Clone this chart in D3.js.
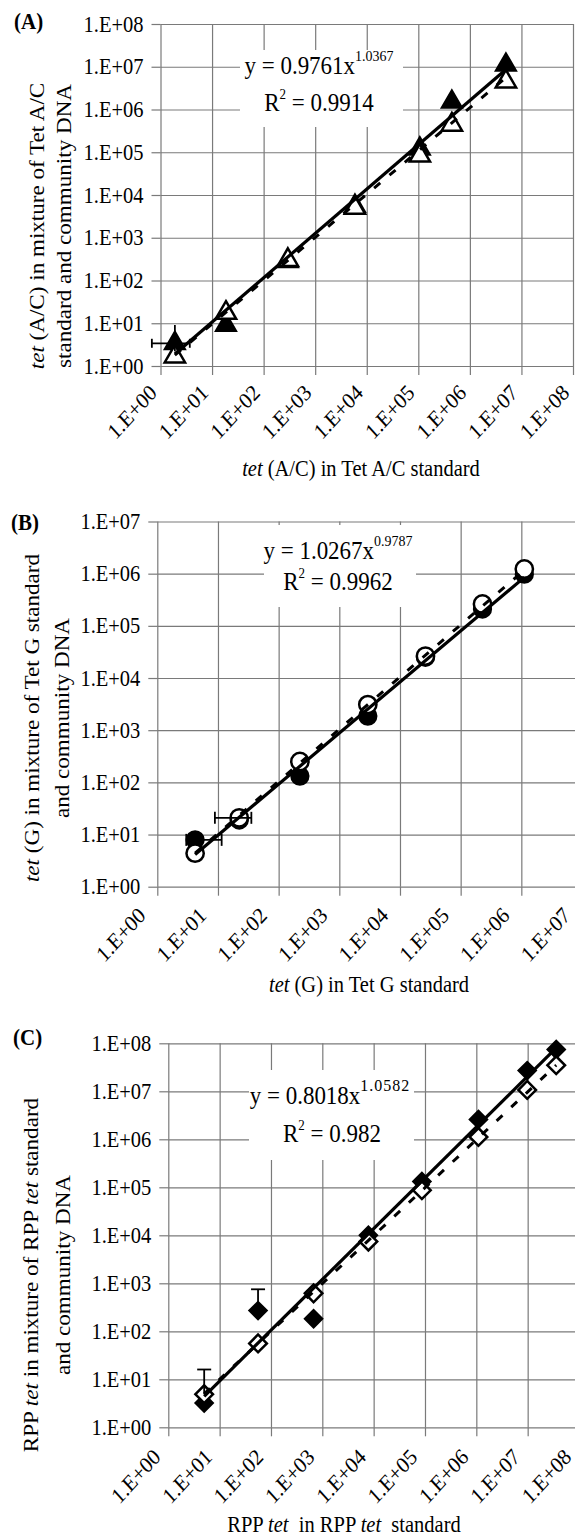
<!DOCTYPE html>
<html><head><meta charset="utf-8">
<script src="https://cdn.jsdelivr.net/npm/d3@7"></script>
<style>
body{margin:0;background:#fff}
svg{display:block}
svg text, svg tspan{font-family:"Liberation Serif","Times New Roman",serif !important;fill:#000}
</style>
</head><body><script>
// ================= DATA =================
// Panel A : tet(A/C)
const aXTicks = [1,1e1,1e2,1e3,1e4,1e5,1e6,1e7,1e8];
const aXTickLabels = ["1.E+00","1.E+01","1.E+02","1.E+03","1.E+04","1.E+05","1.E+06","1.E+07","1.E+08"];
const aYTicks = [1,1e1,1e2,1e3,1e4,1e5,1e6,1e7,1e8];
const aYTickLabels = ["1.E+00","1.E+01","1.E+02","1.E+03","1.E+04","1.E+05","1.E+06","1.E+07","1.E+08"];
const aX      = [1.9, 18.6, 295, 5900, 1.07e5, 4.47e5, 5.0e6];
const aFilled = [3.4, 9.1, 280, 5500, 1.2e5, 1.5e6, 1.1e7];
const aOpen   = [1.66, 17.4, 300, 5000, 8.3e4, 4.4e5, 4.5e6];
const aErr    = [{x:1.9, y:3.4, xLo:0.68, xHi:3.7, yLo:2.2, yHi:9.1}];
const aTrendSolidX = [1.9, 5.0e6], aTrendSolidY = [1.9, 8.6e6];
const aTrendDashX  = [1.9, 5.0e6], aTrendDashY  = [1.8, 5.6e6];
const aEquation = ["y = 0.9761x", "1.0367"];
const aR2 = "0.9914";

// Panel B : tet(G)
const bXTicks = [1,1e1,1e2,1e3,1e4,1e5,1e6,1e7];
const bXTickLabels = ["1.E+00","1.E+01","1.E+02","1.E+03","1.E+04","1.E+05","1.E+06","1.E+07"];
const bYTicks = [1,1e1,1e2,1e3,1e4,1e5,1e6,1e7];
const bYTickLabels = ["1.E+00","1.E+01","1.E+02","1.E+03","1.E+04","1.E+05","1.E+06","1.E+07"];
const bX      = [4.2, 22.4, 224, 2950, 2.63e4, 2.29e5, 1.12e6];
const bFilled = [7.9, 19, 132, 1860, 2.5e4, 2.1e5, 9.8e5];
const bOpen   = [4.4, 20.9, 251, 3090, 2.63e4, 2.63e5, 1.23e6];
const bErr    = [{x:4.2, y:7.9, xLo:3.0, xHi:11.5}, {x:22.4, y:20.9, xLo:8.9, xHi:35.5}];
const bTrendSolidX = [4.2, 1.12e6], bTrendSolidY = [4.15, 8.5e5];
const bTrendDashX  = [4.2, 1.12e6], bTrendDashY  = [4.4, 1.17e6];
const bEquation = ["y = 1.0267x", "0.9787"];
const bR2 = "0.9962";

// Panel C : RPP tet
const cXTicks = [1,1e1,1e2,1e3,1e4,1e5,1e6,1e7,1e8];
const cXTickLabels = ["1.E+00","1.E+01","1.E+02","1.E+03","1.E+04","1.E+05","1.E+06","1.E+07","1.E+08"];
const cYTicks = [1,1e1,1e2,1e3,1e4,1e5,1e6,1e7,1e8];
const cYTickLabels = ["1.E+00","1.E+01","1.E+02","1.E+03","1.E+04","1.E+05","1.E+06","1.E+07","1.E+08"];
const cX      = [5.0, 56, 676, 7900, 8.7e4, 1.1e6, 9.8e6, 3.6e7];
const cFilled = [3.2, 270, 182, 1.0e4, 1.32e5, 2.6e6, 2.7e7, 7.4e7];
const cOpen   = [4.9, 56, 617, 7400, 8.7e4, 1.12e6, 1.07e7, 3.5e7];
const cErr    = [{x:5.0, y:4.9, yHi:16}, {x:56, y:270, yHi:750}];
const cTrendSolidX = [5.0, 3.6e7], cTrendSolidY = [4.4, 8.0e7];
const cTrendDashX  = [5.0, 3.6e7], cTrendDashY  = [5.0, 3.5e7];
const cEquation = ["y = 0.8018x", "1.0582"];
const cR2 = "0.982";

// ================= DRAWING =================
const W = 575, H = 1537;
const SY = 1.1;          // vertical stretch of the original figure
const GRID = "#7a7a7a";
const FS = 20.5;
const FONT = '"Liberation Serif","Times New Roman",serif';
const svg = d3.select("body").append("svg").attr("width", W).attr("height", H)
  .style("font-family", FONT);

function richText(g, parts, size) {
  parts.forEach(p => {
    const t = g.append("tspan").text(p.t);
    if (p.i) t.attr("font-style", "italic");
  });
  g.attr("font-size", size).style("font-family", FONT);
  return g;
}

function drawPanel(p) {
  const g = svg.append("g");
  const x = d3.scaleLog().domain(p.xDomain).range([p.left, p.right]);
  const y = d3.scaleLog().domain(p.yDomain).range([p.bottom, p.top]);
  const w = p.right - p.left, h = p.bottom - p.top;

  // horizontal grid + y labels
  const gy = g.append("g").attr("transform", `translate(${p.left},0)`)
    .call(d3.axisLeft(y).tickValues(p.yTicks).tickFormat((d, i) => p.yLabels[i])
      .tickSize(-w).tickSizeOuter(0).tickPadding(17));
  gy.attr("font-family", null).style("font-family", FONT);
  gy.select(".domain").remove();
  gy.selectAll("line").attr("stroke", GRID).attr("stroke-width", 1.2);
  gy.selectAll("text").attr("font-size", FS).style("font-family", FONT).attr("fill", "#000")
    .attr("dy", null).attr("y", 0).attr("transform", `translate(0,7) scale(1,${SY})`);
  // outside ticks left
  const gyo = g.append("g").attr("transform", `translate(${p.left},0)`)
    .call(d3.axisLeft(y).tickValues(p.yTicks).tickFormat("").tickSize(9).tickSizeOuter(0));
  gyo.select(".domain").remove();
  gyo.selectAll("line").attr("stroke", GRID).attr("stroke-width", 1.2);

  // vertical grid + x labels
  const gx = g.append("g").attr("transform", `translate(0,${p.bottom})`)
    .call(d3.axisBottom(x).tickValues(p.xTicks).tickFormat((d, i) => p.xLabels[i])
      .tickSize(-h).tickSizeOuter(0).tickPadding(0));
  gx.attr("font-family", null).style("font-family", FONT);
  gx.select(".domain").remove();
  gx.selectAll("line").attr("stroke", GRID).attr("stroke-width", 1.2);
  gx.selectAll("text").attr("font-size", FS).style("font-family", FONT).attr("fill", "#000")
    .attr("dy", null).attr("y", 0).attr("x", 0).attr("text-anchor", "end")
    .attr("transform", `translate(${p.xLabOff[0]},${p.xLabOff[1]}) scale(1,${SY}) rotate(-45)`);
  const gxo = g.append("g").attr("transform", `translate(0,${p.bottom})`)
    .call(d3.axisBottom(x).tickValues(p.xTicks).tickFormat("").tickSize(9).tickSizeOuter(0));
  gxo.select(".domain").remove();
  gxo.selectAll("line").attr("stroke", GRID).attr("stroke-width", 1.2);

  // equation box
  const b = p.box;
  g.append("rect").attr("x", b[0]).attr("y", b[1]).attr("width", b[2]).attr("height", b[3]).attr("fill", "#fff");
  const eq = g.append("text").attr("text-anchor", "middle").attr("font-size", 23).style("font-family", FONT)
    .attr("transform", `translate(${p.eqPos[0]},${p.eqPos[1]}) scale(1,${SY})`);
  eq.append("tspan").text(p.eq[0]);
  eq.append("tspan").attr("dy", -12).attr("font-size", p.supSize).attr("letter-spacing", p.supSpacing).text(p.eq[1]);
  const r2 = g.append("text").attr("text-anchor", "middle").attr("font-size", 23).style("font-family", FONT)
    .attr("transform", `translate(${p.r2Pos[0]},${p.r2Pos[1]}) scale(1,${SY})`);
  r2.append("tspan").text("R");
  r2.append("tspan").attr("dy", -11).attr("font-size", 13).text("2");
  r2.append("tspan").attr("dy", 11).text(" = " + p.r2);

  // markers
  const sym = d3.symbol().type(p.symbol).size(p.symSize);
  g.append("g").selectAll("path").data(p.xs.map((v, i) => [v, p.filled[i]])).join("path")
    .attr("d", sym).attr("transform", d => `translate(${x(d[0])},${y(d[1])}) rotate(${p.symRot})`)
    .attr("fill", "#000").attr("stroke", "#000").attr("stroke-width", 2);
  g.append("g").selectAll("path").data(p.xs.map((v, i) => [v, p.open[i]])).join("path")
    .attr("d", sym).attr("transform", d => `translate(${x(d[0])},${y(d[1])}) rotate(${p.symRot})`)
    .attr("fill", "#fff").attr("stroke", "#000").attr("stroke-width", 2.5);

  // error bars
  const eg = g.append("g").attr("stroke", "#000").attr("stroke-width", 1.8).attr("fill", "none");
  p.err.forEach(e => {
    const cx = x(e.x), cy = y(e.y);
    if (e.xHi !== undefined) {
      const x0 = x(e.xLo), x1 = x(e.xHi);
      eg.append("line").attr("x1", x0).attr("x2", x1).attr("y1", cy).attr("y2", cy);
      [x0, x1].forEach(xx => eg.append("line").attr("x1", xx).attr("x2", xx).attr("y1", cy - p.cap / 2).attr("y2", cy + p.cap / 2));
    }
    if (e.yHi !== undefined) {
      const y0 = e.yLo !== undefined ? y(e.yLo) : cy, y1 = y(e.yHi);
      eg.append("line").attr("x1", cx).attr("x2", cx).attr("y1", y0).attr("y2", y1);
      if (p.vCap) eg.append("line").attr("x1", cx - p.vCap / 2).attr("x2", cx + p.vCap / 2).attr("y1", y1).attr("y2", y1);
    }
  });

  // trendlines
  const line = d3.line().x(d => x(d[0])).y(d => y(d[1]));
  g.append("path").datum(p.dashX.map((v, i) => [v, p.dashY[i]])).attr("d", line)
    .attr("stroke", "#000").attr("stroke-width", 3).attr("stroke-dasharray", "8,12").attr("fill", "none");
  g.append("path").datum(p.solidX.map((v, i) => [v, p.solidY[i]])).attr("d", line)
    .attr("stroke", "#000").attr("stroke-width", 3.2).attr("fill", "none");

  // panel letter
  svg.append("text").attr("font-weight", "bold").attr("font-size", 21).style("font-family", FONT)
    .attr("transform", `translate(${p.letterPos[0]},${p.letterPos[1]}) scale(1,${SY})`).text(p.letter);

  // x title
  richText(svg.append("text").attr("text-anchor", "middle").attr("xml:space", "preserve")
    .attr("transform", `translate(${p.xTitlePos[0]},${p.xTitlePos[1]}) scale(1,${SY})`), p.xTitle, 20.5);
  // y titles
  p.yTitle.forEach((ln, k) => {
    richText(svg.append("text").attr("text-anchor", "middle").attr("xml:space", "preserve")
      .attr("transform", `translate(${p.yTitleX[k]},${p.yTitleY}) scale(1,${SY}) rotate(-90)`), ln, 21);
  });
}

drawPanel({
  left: 160.5, right: 573, top: 24, bottom: 366, xDomain: [1, 1e8], yDomain: [1, 1e8],
  xTicks: aXTicks, xLabels: aXTickLabels, yTicks: aYTicks, yLabels: aYTickLabels, xLabOff: [-3, 28],
  xs: aX, filled: aFilled, open: aOpen, err: aErr, cap: 9, vCap: 0,
  symbol: d3.symbolTriangle, symSize: 180, symRot: 0,
  solidX: aTrendSolidX, solidY: aTrendSolidY, dashX: aTrendDashX, dashY: aTrendDashY,
  box: [240, 50, 163, 77], eq: aEquation, eqPos: [319, 74], r2: aR2, r2Pos: [319, 111], supSize: 14, supSpacing: 0,
  letter: "(A)", letterPos: [14, 29],
  xTitle: [{t: "tet", i: true}, {t: " (A/C) in Tet A/C standard"}], xTitlePos: [361, 476],
  yTitle: [[{t: "tet", i: true}, {t: " (A/C) in mixture of Tet A/C"}], [{t: "standard and community DNA"}]],
  yTitleX: [44, 71], yTitleY: 226
});

drawPanel({
  left: 157.3, right: 582, top: 521.5, bottom: 886.7, xDomain: [1, 1e7], yDomain: [1, 1e7],
  xTicks: bXTicks, xLabels: bXTickLabels, yTicks: bYTicks, yLabels: bYTickLabels, xLabOff: [-11, 30],
  xs: bX, filled: bFilled, open: bOpen, err: bErr, cap: 12, vCap: 0,
  symbol: d3.symbolCircle, symSize: 235, symRot: 0,
  solidX: bTrendSolidX, solidY: bTrendSolidY, dashX: bTrendDashX, dashY: bTrendDashY,
  box: [264, 525, 152, 82], eq: bEquation, eqPos: [338, 559], r2: bR2, r2Pos: [338, 590], supSize: 14, supSpacing: 0,
  letter: "(B)", letterPos: [11, 530],
  xTitle: [{t: "tet", i: true}, {t: " (G) in Tet G standard"}], xTitlePos: [369, 992],
  yTitle: [[{t: "tet", i: true}, {t: " (G) in mixture of Tet G standard"}], [{t: "and community DNA"}]],
  yTitleX: [39, 69], yTitleY: 718
});

drawPanel({
  left: 168.3, right: 579, top: 1043.3, bottom: 1427.3, xDomain: [1, 1e8], yDomain: [1, 1e8],
  xTicks: cXTicks, xLabels: cXTickLabels, yTicks: cYTicks, yLabels: cYTickLabels, xLabOff: [-7, 31],
  xs: cX, filled: cFilled, open: cOpen, err: cErr, cap: 0, vCap: 14,
  symbol: d3.symbolSquare, symSize: 155, symRot: 45,
  solidX: cTrendSolidX, solidY: cTrendSolidY, dashX: cTrendDashX, dashY: cTrendDashY,
  box: [249, 1070, 165, 90], eq: cEquation, eqPos: [330, 1104], r2: cR2, r2Pos: [332, 1142], supSize: 16, supSpacing: 1,
  letter: "(C)", letterPos: [13, 1045],
  xTitle: [{t: "RPP "}, {t: "tet", i: true}, {t: "  in RPP "}, {t: "tet", i: true}, {t: "  standard"}], xTitlePos: [344, 1532],
  yTitle: [[{t: "RPP "}, {t: "tet", i: true}, {t: " in mixture of RPP "}, {t: "tet", i: true}, {t: " standard"}], [{t: "and community DNA"}]],
  yTitleX: [38, 70], yTitleY: 1275
});
</script></body></html>
